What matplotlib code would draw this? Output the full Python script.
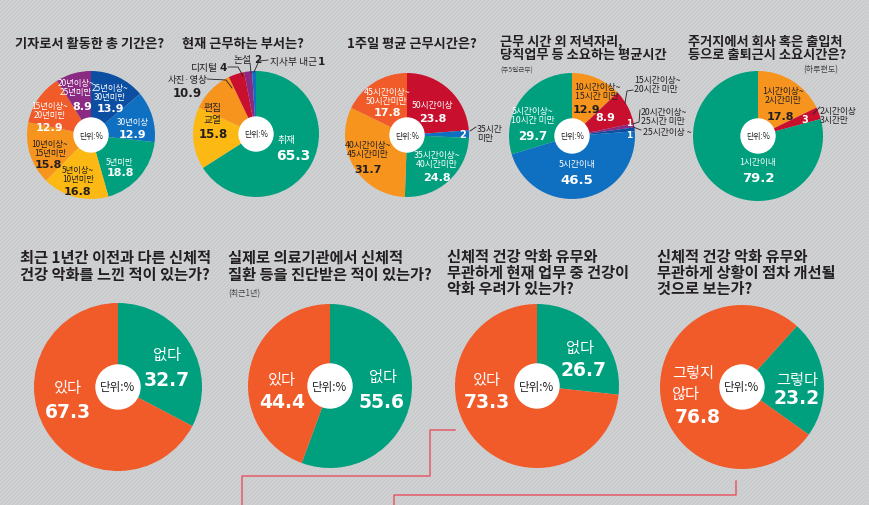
import numpy as np
import matplotlib.pyplot as plt
from matplotlib.patches import Circle, Rectangle

plt.rcParams['font.family'] = ['Noto Sans CJK KR', 'DejaVu Sans']

W, H = 870, 506

# 색상
GREEN = '#00a07f'
ORED = '#f15a29'
ORANGE = '#f7941e'
YELLOW = '#fdb913'
RED = '#c8102e'
PURPLE = '#8b2a82'
BLUE = '#0f6fc0'
DBLUE = '#0b4ea2'
DARK = '#231f20'
LINE_RED = '#e35d6a'

# ---- 데이터 ----
# 1. 기자로서 활동한 총 기간
q1_labels = ['25년이상~\n30년미만', '30년이상', '5년미만', '5년이상~\n10년미만',
             '10년이상~\n15년미만', '15년이상~\n20년미만', '20년이상~\n25년미만']
q1_values = [13.9, 12.9, 18.8, 16.8, 15.8, 12.9, 8.9]

# 2. 현재 근무하는 부서
q2_labels = ['취재', '편집\n교열', '사진·영상', '디지털', '논설', '지사부 내근']
q2_values = [65.3, 15.8, 10.9, 4, 2, 1]

# 3. 1주일 평균 근무시간
q3_labels = ['50시간이상', '35시간\n미만', '35시간이상~\n40시간미만', '40시간이상~\n45시간미만', '45시간이상~\n50시간미만']
q3_values = [23.8, 2, 24.8, 31.7, 17.8]

# 4. 근무 시간 외 저녁자리, 당직업무 등 소요 평균시간
q4_labels = ['10시간이상~\n15시간 미만', '15시간이상~\n20시간 미만', '20시간이상~\n25시간 미만',
             '25시간이상 ~', '5시간이내', '5시간이상~\n10시간 미만']
q4_values = [12.9, 8.9, 1, 1, 46.5, 29.7]

# 5. 출퇴근시 소요시간
q5_labels = ['1시간이상~\n2시간미만', '2시간이상\n3시간만', '1시간이내']
q5_values = [17.8, 3, 79.2]

# 6~9. 건강 관련 (없다/그렇다, 있다/그렇지 않다)
q6_labels = ['없다', '있다']
q6_values = [32.7, 67.3]
q7_labels = ['없다', '있다']
q7_values = [55.6, 44.4]
q8_labels = ['없다', '있다']
q8_values = [26.7, 73.3]
q9_labels = ['그렇다', '그렇지\n않다']
q9_values = [23.2, 76.8]

fig = plt.figure(figsize=(W / 100, H / 100), dpi=100)
ax = fig.add_axes([0, 0, 1, 1])


def Y(y):
    return H - y


# 배경 (회색 + 사선 무늬)
ax.add_patch(Rectangle((0, 0), W, H, color='#cacbcd', zorder=0))
for k in np.arange(-H, W, 4):
    ax.plot([k, k + H], [0, H], color='#d5d6d8', lw=0.6, zorder=0.5)


def draw_pie(values, colors, cx, cy, r, hole, start=90, unit_size=5.7):
    ax.pie(values, colors=colors, center=(cx, Y(cy)), radius=r, startangle=start,
           counterclock=False, frame=True, wedgeprops=dict(linewidth=0))
    ax.add_patch(Circle((cx, Y(cy)), hole, color='white', zorder=3))
    ax.text(cx, Y(cy), '단위:%', fontsize=unit_size, color=DARK, ha='center', va='center', zorder=6)


def txt(x, y, s, size=6.3, color='white', weight='normal', ha='center', ls=1.1):
    ax.text(x, Y(y), s, fontsize=size, color=color, fontweight=weight, ha=ha, va='center',
            linespacing=ls, zorder=6)


def num(x, y, v, size=8, color='white', ha='center'):
    ax.text(x, Y(y), f'{v:g}', fontsize=size, color=color, fontweight='bold', family='DejaVu Sans',
            ha=ha, va='center', zorder=6)


def leader(xs, ys, color=DARK):
    ax.plot(xs, [Y(v) for v in ys], color=color, lw=0.6, zorder=6)


# ---- 제목 ----
top_title = dict(size=9.5, color=DARK, weight='bold', ha='left')
txt(15, 44, '기자로서 활동한 총 기간은?', **top_title)
txt(182, 44, '현재 근무하는 부서는?', **top_title)
txt(347, 44, '1주일 평균 근무시간은?', **top_title)
txt(500, 42, '근무 시간 외 저녁자리,', **top_title)
txt(500, 55, '당직업무 등 소요하는 평균시간', **top_title)
txt(500, 70, '(주5일근무)', size=4.8, color='#444444', ha='left')
txt(688, 42, '주거지에서 회사 혹은 출입처', **top_title)
txt(688, 55, '등으로 출퇴근시 소요시간은?', **top_title)
txt(821, 70, '(하루편도)', size=5.8, color='#444444')

bot_title = dict(size=11, color=DARK, weight='bold', ha='left')
txt(20, 258, '최근 1년간 이전과 다른 신체적', **bot_title)
txt(20, 275, '건강 악화를 느낀 적이 있는가?', **bot_title)
txt(228, 258, '실제로 의료기관에서 신체적', **bot_title)
txt(228, 275, '질환 등을 진단받은 적이 있는가?', **bot_title)
txt(228, 294, '(최근1년)', size=5.8, color='#444444', ha='left')
txt(447, 257, '신체적 건강 악화 유무와', **bot_title)
txt(447, 273, '무관하게 현재 업무 중 건강이', **bot_title)
txt(447, 289, '악화 우려가 있는가?', **bot_title)
txt(657, 257, '신체적 건강 악화 유무와', **bot_title)
txt(657, 273, '무관하게 상황이 점차 개선될', **bot_title)
txt(657, 289, '것으로 보는가?', **bot_title)

# ---- 1. 활동 기간 ----
draw_pie(q1_values, [DBLUE, BLUE, GREEN, YELLOW, ORANGE, ORED, PURPLE], 91, 136, 64, 17)
q1_name_pos = [(110, 93), (133, 123), (120, 162), (78, 175), (50, 149), (50, 111), (76, 88)]
q1_num_pos = [(110, 109), (133, 135), (120, 173), (78, 192), (48, 165), (50, 128), (82, 107)]
q1_txt_col = ['white', 'white', 'white', DARK, DARK, 'white', 'white']
for n, v, p, q, c in zip(q1_labels, q1_values, q1_name_pos, q1_num_pos, q1_txt_col):
    txt(p[0], p[1], n, size=6, color=c)
    num(q[0], q[1], v, size=8, color=c)

# ---- 2. 부서 ----
draw_pie(q2_values, [GREEN, YELLOW, ORANGE, RED, PURPLE, BLUE], 256, 135, 63, 17)
txt(287, 140, q2_labels[0], size=7)
num(293, 156, q2_values[0], size=10)
txt(213, 114, q2_labels[1], size=7, color=DARK, ls=1.2)
num(213, 135, q2_values[1], size=8.5, color=DARK)
txt(187, 80, q2_labels[2], size=6.8, color=DARK)
num(187, 93, q2_values[2], size=8.5, color=DARK)
txt(218, 68, q2_labels[3], size=7, color=DARK, ha='right')
num(220, 68, q2_values[3], size=7.5, color=DARK, ha='left')
txt(252, 60, q2_labels[4], size=7, color=DARK, ha='right')
num(254, 60, q2_values[4], size=7.5, color=DARK, ha='left')
txt(317, 62, q2_labels[5], size=7, color=DARK, ha='right')
num(318, 62, q2_values[5], size=7.5, color=DARK, ha='left')
leader([207, 226, 232], [80, 81, 89])
leader([228, 238, 243], [68, 68, 77])
leader([250, 251], [64, 74])
leader([268, 259, 254], [61, 62, 73])

# ---- 3. 근무시간 ----
draw_pie(q3_values, [RED, BLUE, GREEN, ORANGE, ORED], 407, 136, 62, 17)
q3_name_pos = [(433, 105), None, (437, 160), (368, 150), (387, 97)]
q3_num_pos = [(433, 119), (463, 135), (437, 178), (368, 170), (387, 113)]
q3_txt_col = ['white', 'white', 'white', DARK, 'white']
for n, v, p, q, c in zip(q3_labels, q3_values, q3_name_pos, q3_num_pos, q3_txt_col):
    if p:
        txt(p[0], p[1], n, color=c)
    num(q[0], q[1], v, size=8 if v > 5 else 7, color=c)
txt(477, 134, q3_labels[1], color=DARK, ha='left')
leader([470, 476], [132, 128])

# ---- 4. 저녁자리·당직 ----
draw_pie(q4_values, [ORANGE, RED, PURPLE, DBLUE, BLUE, GREEN], 572, 137, 63, 17)
txt(597, 92, q4_labels[0], color=DARK)
num(587, 110, q4_values[0], size=8, color=DARK)
num(605, 118, q4_values[1], size=8)
num(629, 123, q4_values[2], size=6.5)
num(629, 135, q4_values[3], size=6.5)
txt(634, 85, q4_labels[1], color=DARK, ha='left')
txt(641, 117, q4_labels[2], color=DARK, ha='left')
txt(643, 133, q4_labels[3], color=DARK, ha='left')
leader([633, 627, 625], [91, 92, 104])
leader([640, 639, 633], [111, 123, 125])
leader([641, 633], [131, 128])
txt(533, 116, q4_labels[5])
num(533, 137, q4_values[5], size=8.5)
txt(577, 165, q4_labels[4])
num(577, 180, q4_values[4], size=9.5)

# ---- 5. 출퇴근 ----
draw_pie(q5_values, [ORANGE, RED, GREEN], 758, 137, 65, 17)
txt(783, 96, q5_labels[0], color=DARK)
num(780, 117, q5_values[0], size=8, color=DARK)
num(805, 120, q5_values[1], size=7)
txt(820, 116, q5_labels[1], color=DARK, ha='left')
leader([813, 820], [115, 108])
txt(758, 162, q5_labels[2])
num(758, 178, q5_values[2], size=9.5)

# ---- 6~9. 건강 ----
big_name = 11
big_num = 13.5
draw_pie(q6_values, [GREEN, ORED], 118, 388, 84, 22, unit_size=8.3)
txt(167, 355, q6_labels[0], size=big_name)
num(167, 380, q6_values[0], size=big_num)
txt(68, 388, q6_labels[1], size=big_name)
num(68, 413, q6_values[1], size=big_num)

draw_pie(q7_values, [GREEN, ORED], 330, 387, 82, 22, unit_size=8.3)
txt(383, 377, q7_labels[0], size=big_name)
num(382, 402, q7_values[0], size=big_num)
txt(282, 380, q7_labels[1], size=big_name)
num(282, 403, q7_values[1], size=big_num)

draw_pie(q8_values, [GREEN, ORED], 537, 387, 82, 22, unit_size=8.3)
txt(580, 348, q8_labels[0], size=big_name)
num(584, 370, q8_values[0], size=big_num)
txt(487, 380, q8_labels[1], size=big_name)
num(487, 403, q8_values[1], size=big_num)

draw_pie(q9_values, [GREEN, ORED], 742, 388, 82, 22, start=48, unit_size=8.3)
txt(797, 380, q9_labels[0], size=big_name)
num(797, 398, q9_values[0], size=big_num)
txt(672, 384, q9_labels[1], size=big_name, ha='left', ls=1.25)
num(698, 418, q9_values[1], size=big_num)

# 연결선 (장식)
ax.plot([455, 430, 430, 242, 242], [Y(v) for v in [431, 431, 477, 477, 510]], color=LINE_RED, lw=1.1, zorder=2)
ax.plot([394, 394, 736, 736], [Y(v) for v in [510, 496, 496, 482]], color=LINE_RED, lw=1.1, zorder=2)

ax.set_xlim(0, W)
ax.set_ylim(0, H)
ax.set_aspect('auto')
ax.axis('off')

plt.savefig('out.png', dpi=100)
